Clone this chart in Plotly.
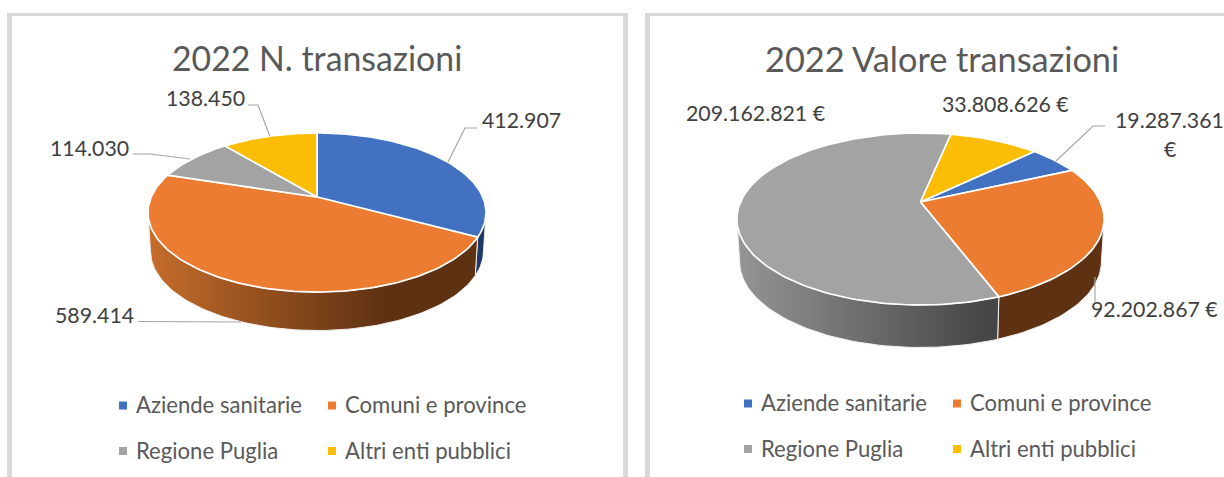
import math
import plotly.graph_objects as go

# ---- data ----
categories = ["Aziende sanitarie", "Comuni e province", "Regione Puglia", "Altri enti pubblici"]
n_transazioni = [412907, 589414, 114030, 138450]
valore_transazioni = [19287361, 92202867, 209162821, 33808626]
titles = ["2022 N. transazioni", "2022 Valore transazioni"]

# ---- styles ----
colors = ["#4271C1", "#EB7C31", "#A3A3A3", "#FBBD05"]
FONT = "Lato"
TITLE_C, LABEL_C, LEG_C, LEAD_C, FRAME_C = "#595959", "#404040", "#595959", "#A6A6A6", "#D9D9D9"
TITLE_S, TITLE_S2, LABEL_S, LEG_S = 33.8, 34.3, 21.3, 22.1

def dotted(v):
    return f"{v:,}".replace(",", ".")

def make_proj(p):
    def top(theta):
        t = math.radians(theta)
        X, Y = math.sin(t), math.cos(t)
        d = 1 + p["k"] * Y
        return p["cx"] + p["A"] * X / d, p["cy"] - p["B"] * Y / d
    def bottom(theta):
        x, y = top(theta)
        return p["cx"] + (x - p["cx"]) * p["s"], y + p["depth"]
    return top, bottom

def arc(f, a, b):
    n = max(2, int(abs(b - a) / 1.5) + 1)
    pts = [f(a + (b - a) * i / (n - 1)) for i in range(n)]
    return [q[0] for q in pts], [q[1] for q in pts]

def draw_pie(fig, values, fmt, p, wall_styles):
    top, bottom = make_proj(p)
    total = sum(values)
    vr = math.degrees(math.acos(-p["k"]))
    front = (vr, 360 - vr)
    edges, ang = [], p["start"]
    for v in values:
        edges.append((ang, ang + v / total * 360))
        ang += v / total * 360
    # side walls first
    for i, (a, b) in enumerate(edges):
        spans = []
        for off in (0, 360):
            lo, hi = max(a - off, front[0]), min(b - off, front[1])
            if hi > lo:
                spans.append((lo, hi))
        for lo, hi in spans:
            x1, y1 = arc(top, lo, hi)
            x2, y2 = arc(bottom, hi, lo)
            tr = dict(x=x1 + x2 + [x1[0]], y=y1 + y2 + [y1[0]], mode="lines", fill="toself",
                      line=dict(color="#F2F2F2", width=1), hoverinfo="skip", showlegend=False)
            st = wall_styles[i]
            if "grad" in st:
                tr["fillgradient"] = dict(type="horizontal", colorscale=[[0, st["grad"][0]], [1, st["grad"][1]]],
                                          start=st["grad"][2], stop=st["grad"][3])
            else:
                tr["fillcolor"] = st["fill"]
            fig.add_trace(go.Scatter(**tr))
    # top faces
    for i, (a, b) in enumerate(edges):
        x, y = arc(top, a, b)
        fig.add_trace(go.Scatter(x=[p["cx"]] + x + [p["cx"]], y=[p["cy"]] + y + [p["cy"]],
                                 mode="lines", fill="toself", fillcolor=colors[i],
                                 line=dict(color="white", width=1.7),
                                 name=categories[i], text=fmt(values[i]), hoverinfo="name+text",
                                 showlegend=False))

fig = go.Figure()

params_l = dict(cx=317, cy=197, A=165.8, B=76.5, k=0.195, s=0.985, depth=38.5, start=0)
params_r = dict(cx=920.5, cy=202, A=180, B=82.6, k=0.198, s=0.985, depth=42.5, start=46)

draw_pie(fig, n_transazioni, dotted, params_l, [
    dict(fill="#1F3864"),
    dict(grad=("#C46C2B", "#5E3112", 150, 385)),
    dict(fill="#7F7F7F"), dict(fill="#BF9000")])
draw_pie(fig, valore_transazioni, lambda v: dotted(v) + " €", params_r, [
    dict(fill="#1F3864"),
    dict(fill="#5E3112"),
    dict(grad=("#949494", "#464646", 740, 985)),
    dict(fill="#BF9000")])

# leader lines
leaders = [
    ([248, 258, 270], [105, 105, 136.5]),
    ([133, 150, 190], [154, 154, 159]),
    ([477, 465, 448], [128, 128, 162]),
    ([138, 241], [321.5, 322]),
    ([1105, 1093, 1056], [126, 126, 161]),
    ([1095, 1095], [277, 302]),
]
for lx, ly in leaders:
    fig.add_trace(go.Scatter(x=lx, y=ly, mode="lines", line=dict(color=LEAD_C, width=1.2),
                             hoverinfo="skip", showlegend=False))

# legend squares
legend_cols = [(123, 134, 332, 343, 405.5, 451), (748, 759, 957, 968, 403.5, 449)]
for c1, t1, c2, t2, r1, r2 in legend_cols:
    slots = [(c1, t1, r1), (c2, t2, r1), (c1, t1, r2), (c2, t2, r2)]
    for i, (mx, tx, my) in enumerate(slots):
        fig.add_trace(go.Scatter(x=[mx], y=[my], mode="markers",
                                 marker=dict(symbol="square", size=8, color=colors[i], line=dict(width=0)),
                                 hoverinfo="skip", showlegend=False))
        fig.add_annotation(x=tx, y=my - 1, text=categories[i], xanchor="left", yanchor="middle", showarrow=False,
                           font=dict(family=FONT, size=LEG_S, color=LEG_C))

def label(x, y, text, anchor="center", size=LABEL_S, color=LABEL_C):
    fig.add_annotation(x=x, y=y, text=text, xanchor=anchor, yanchor="middle", showarrow=False,
                       font=dict(family=FONT, size=size, color=color))

label(317, 58, titles[0], size=TITLE_S, color=TITLE_C)
label(942, 58, titles[1], size=TITLE_S2, color=TITLE_C)

label(205, 98, dotted(n_transazioni[3]))
label(89, 148, dotted(n_transazioni[2]))
label(521.5, 120, dotted(n_transazioni[0]))
label(94.5, 315, dotted(n_transazioni[1]))
label(755.5, 113, dotted(valore_transazioni[2]) + " €")
label(1005.5, 104, dotted(valore_transazioni[3]) + " €")
label(1169.5, 120, dotted(valore_transazioni[0]))
label(1169.5, 149, "€")
label(1154.5, 309, dotted(valore_transazioni[1]) + " €")

# chart frames
frames = [(7, 13, 12, 477), (623, 13, 628, 477), (7, 13, 628, 16), (645, 13, 650, 477), (645, 13, 1224, 16)]
shapes = [dict(type="rect", xref="x", yref="y", x0=a, y0=b, x1=c, y1=d, fillcolor=FRAME_C,
               line=dict(width=0), layer="below") for a, b, c, d in frames]

fig.update_layout(
    width=1224, height=477, autosize=False,
    margin=dict(l=0, r=0, t=0, b=0),
    paper_bgcolor="white", plot_bgcolor="white",
    shapes=shapes, showlegend=False,
    xaxis=dict(range=[0, 1224], visible=False, fixedrange=True),
    yaxis=dict(range=[477, 0], visible=False, fixedrange=True),
)
fig.write_html("out.html", config=dict(displayModeBar=False),
               post_script="document.body.style.margin='0';document.documentElement.style.overflow='hidden';")
